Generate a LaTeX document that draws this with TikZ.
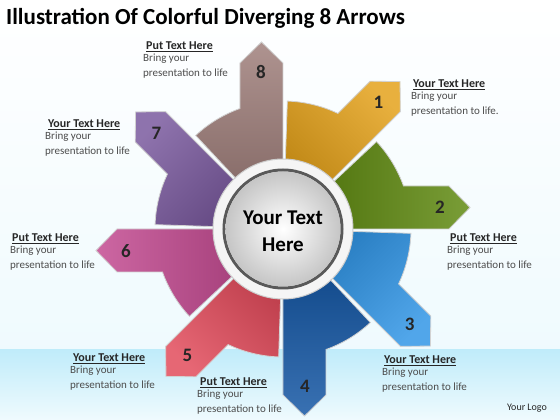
\documentclass[tikz,border=0pt]{standalone}
\usepackage{fontspec}
\setmainfont{Carlito}
\usetikzlibrary{calc,positioning}

\definecolor{gold}{RGB}{228,162,28}
\definecolor{leaf}{RGB}{98,140,20}
\definecolor{sky}{RGB}{50,150,230}
\definecolor{navy}{RGB}{22,88,165}
\definecolor{coral}{RGB}{226,76,92}
\definecolor{rose}{RGB}{196,76,146}
\definecolor{plum}{RGB}{122,90,158}
\definecolor{mauve}{RGB}{160,128,124}
\definecolor{band}{RGB}{192,236,250}

\tikzset{
  piece/.style={draw=gray!35, line width=0.8pt},
  digit/.style={font=\fontsize{19}{19}\selectfont\bfseries, text=black!85},
  head/.style={font=\fontsize{12}{14}\selectfont\bfseries, text=black!85, inner sep=0pt, anchor=west},
  body/.style={font=\fontsize{11}{14.5}\selectfont, text=black!70, inner sep=0pt, align=left, anchor=north west},
}

\begin{document}
\begin{tikzpicture}[x=1pt,y=1pt]
    \useasboundingbox (-283,-191) rectangle (277,229);

    % Background
    \fill[top color=white, bottom color=band!25] (-283,-121) rectangle (277,229);
    \fill[top color=band, bottom color=band!25] (-283,-191) rectangle (277,-121);

    % Title
    \node[anchor=west, inner sep=0pt, font=\fontsize{23}{26}\selectfont\bfseries] (title) at (-277,211)
        {Illustration Of Colorful Diverging 8 Arrows};

    % Arrows
    \foreach \a/\c/\n in {45/gold/1, 0/leaf/2, -45/sky/3, -90/navy/4, -135/coral/5, 180/rose/6, 135/plum/7, 90/mauve/8} {
        \path[piece, top color=\c!85!white, bottom color=\c!85!black, shading angle=\a-90]
            (\a:60pt) -- (\a:166pt) -- ($(\a:187pt)+(\a+90:21.5pt)$)
            -- ($(\a:166pt)+(\a+90:43pt)$) -- ($(\a:120.5pt)+(\a+90:43pt)$)
            arc[start angle=\a+19.6, end angle=\a+43, radius=128pt]
            -- (\a+43:60pt) arc[start angle=\a+43, end angle=\a, radius=60pt] -- cycle;
        \node[digit] (n\n) at ($(\a:157pt)+(\a+90:22pt)$) {\n};
    }

    % Hub
    \filldraw[fill=gray!8, draw=gray!40, line width=1pt] (0,0) circle (70pt);
    \draw[black!65, line width=3pt] (0,0) circle (59pt);
    \shade[inner color=white, outer color=gray!45] (0,0) circle (57.5pt);
    \node[align=center, font=\fontsize{21}{27}\selectfont\bfseries] (hub) at (0,-2.5) {Your Text\\Here};

    % Labels
    \node[head] (h8) at (-137,182) {\underline{Put Text Here}};
    \node[body] (b8) at ($(h8.south west)+(-3,-2)$) {Bring your\\presentation to life};
    \node[head] (h1) at (130,144) {\underline{Your Text Here}};
    \node[body] (b1) at ($(h1.south west)+(-2,-2)$) {Bring your\\presentation to life.};
    \node[head] (h2) at (167,-10) {\underline{Put Text Here}};
    \node[body] (b2) at ($(h2.south west)+(-3,-2)$) {Bring your\\presentation to life};
    \node[head] (h3) at (101,-132) {\underline{Your Text Here}};
    \node[body] (b3) at ($(h3.south west)+(-2,-2)$) {Bring your\\presentation to life};
    \node[head] (h4) at (-83,-154) {\underline{Put Text Here}};
    \node[body] (b4) at ($(h4.south west)+(-3,-2)$) {Bring your\\presentation to life};
    \node[head] (h5) at (-210,-130) {\underline{Your Text Here}};
    \node[body] (b5) at ($(h5.south west)+(-3,-2)$) {Bring your\\presentation to life};
    \node[head] (h6) at (-271,-10) {\underline{Put Text Here}};
    \node[body] (b6) at ($(h6.south west)+(-2,-2)$) {Bring your\\presentation to life};
    \node[head] (h7) at (-235,104) {\underline{Your Text Here}};
    \node[body] (b7) at ($(h7.south west)+(-3,-2)$) {Bring your\\presentation to life};

    \node[font=\fontsize{10}{12}\selectfont, text=black!85] (logo) at (244,-179) {Your Logo};
\end{tikzpicture}
\end{document}
